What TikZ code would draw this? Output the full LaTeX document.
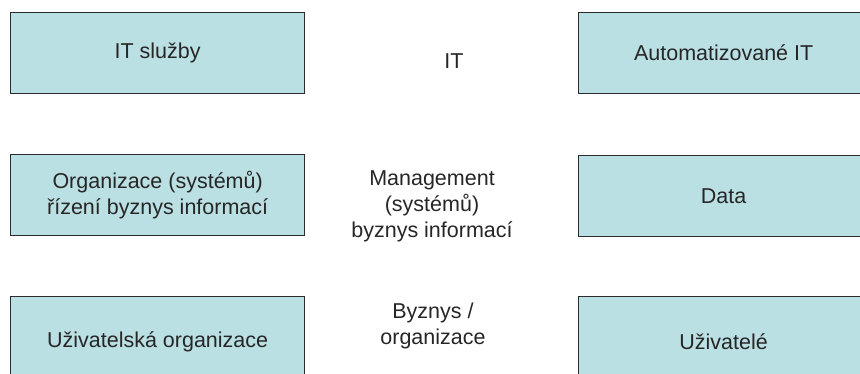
\documentclass[tikz,border=0pt]{standalone}
\usepackage{fontspec}
\setmainfont{Liberation Sans}
\definecolor{boxfill}{HTML}{BBE0E3}
\definecolor{boxline}{HTML}{2B2B2B}
\definecolor{txt}{HTML}{262626}
\begin{document}
\begin{tikzpicture}[x=1pt,y=-1pt]
\tikzset{
  panel/.style={draw=boxline, fill=boxfill, line width=1.3pt,
    rectangle, anchor=north west, inner sep=0pt,
    minimum width=294pt, minimum height=81pt,
    font=\fontsize{21.5}{26}\selectfont, text=txt, align=center},
  wide/.style={minimum width=290pt},
  tall/.style={minimum height=90pt},
  midtext/.style={font=\fontsize{21.5}{26}\selectfont, text=txt, align=center, inner sep=0pt}
}
\useasboundingbox (0,0) rectangle (860,374);
\clip (0,0) rectangle (860,374);

% left column
\node[panel] (itsluzby) at (10,12) {IT služby};
\node[panel] (organizace) at (10,154) {Organizace (systémů)\\řízení byznys informací};
\node[panel, tall] (uzorg) at (10,296) {Uživatelská organizace};

% right column
\node[panel, wide] (autoit) at (578,12) {Automatizované IT};
\node[panel, wide] (data) at (578,155) {Data};
\node[panel, wide, tall] (uzivatele) at (578,296) {Uživatelé};

% middle column
\node[midtext] (it) at (454,61) {IT};
\node[midtext] (mgmt) at (432,206) {Management\\(systémů)\\byznys informací};
\node[midtext] (byznys) at (433,326) {Byznys /\\organizace};
\end{tikzpicture}
\end{document}
